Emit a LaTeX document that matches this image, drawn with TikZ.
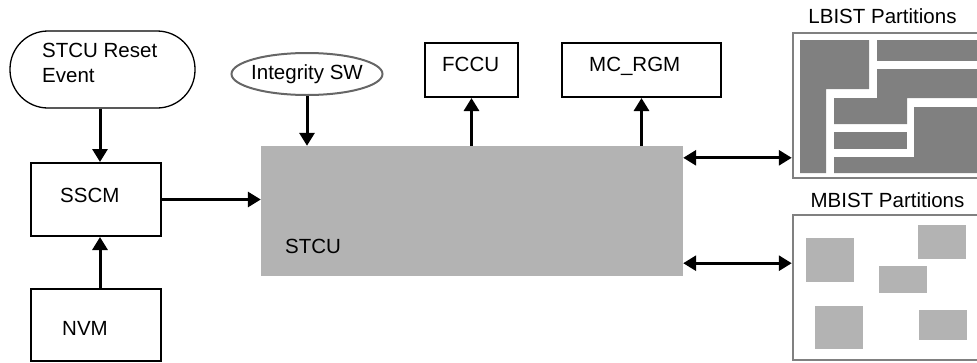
\documentclass[tikz,border=0pt]{standalone}
\usepackage{fontspec}
\setmainfont{Liberation Sans}
\usetikzlibrary{arrows.meta, shapes.geometric}
\definecolor{stcugray}{HTML}{B3B3B3}
\definecolor{lbistgray}{HTML}{808080}

\begin{document}
\begin{tikzpicture}[x=1pt, y=-1pt,
  font=\fontsize{20.5}{24.6}\selectfont,
  blk/.style={draw, line width=2pt, inner sep=0pt},
  txt/.style={inner sep=0pt, anchor=base west},
  arr/.style={line width=3pt, -{Triangle[length=13pt,width=15pt]}},
  dblarr/.style={line width=3pt, {Triangle[length=13pt,width=15pt]}-{Triangle[length=13pt,width=15pt]}},
  partbox/.style={draw=lbistgray, line width=2.5pt, inner sep=0pt}]
  \useasboundingbox (0,0) rectangle (977,362);
  \clip (0,0) rectangle (977,362);

  % left column
  \node[draw, line width=1.3pt, rounded corners=38pt, minimum width=185pt, minimum height=77pt] (reset) at (102.5,69.5) {};
  \node[inner sep=0pt, anchor=north west, align=left] (resettxt) at (42,43) {STCU Reset\\Event};
  \node[blk, minimum width=130pt, minimum height=73pt] (sscm) at (96,199.5) {};
  \node[txt] (sscmtxt) at (60,202) {SSCM};
  \node[blk, minimum width=130pt, minimum height=72pt] (nvm) at (96,325) {};
  \node[txt] (nvmtxt) at (62,335) {NVM};
  \coordinate (col) at (100,0);

  % STCU and its neighbours
  \node[fill=stcugray, minimum width=422pt, minimum height=130pt, inner sep=0pt] (stcu) at (472,211) {};
  \node[txt] (stcutxt) at (285,253) {STCU};
  \node[ellipse, draw=black!60, line width=2pt, minimum width=151pt, minimum height=42pt] (integ) at (307,74) {};
  \node[inner sep=0pt] (integtxt) at (integ.center) {Integrity SW};
  \node[blk, minimum width=93pt, minimum height=54pt] (fccu) at (471.5,70) {};
  \node[txt] (fccutxt) at (442,71.5) {FCCU};
  \node[blk, minimum width=159pt, minimum height=54pt] (mcrgm) at (641.5,70) {};
  \node[txt] (mcrgmtxt) at (589,71.5) {MC\_RGM};

  % partitions (cut by the right edge)
  \node[partbox, minimum width=207pt, minimum height=145pt] (lbist) at (896.5,105.5) {};
  \node[inner sep=0pt, anchor=base] (lbisttxt) at (882.5,23) {LBIST Partitions};
  \fill[lbistgray] (800,40) -- (869,40) -- (869,89) -- (826,89) -- (826,173) -- (800,173) -- cycle;
  \fill[lbistgray] (877,40) rectangle (1000,61);
  \fill[lbistgray] (877,69) -- (1000,69) -- (1000,98) -- (907,98) -- (907,124) -- (834,124) -- (834,98) -- (877,98) -- cycle;
  \fill[lbistgray] (834,132) rectangle (907,149);
  \fill[lbistgray] (914,107) -- (1000,107) -- (1000,173) -- (834,173) -- (834,157) -- (914,157) -- cycle;

  \node[partbox, minimum width=207pt, minimum height=145pt] (mbist) at (896.5,287.5) {};
  \node[inner sep=0pt, anchor=base] (mbisttxt) at (887.5,207) {MBIST Partitions};
  \fill[stcugray] (806,238) rectangle (854,282);
  \fill[stcugray] (918,225) rectangle (966,259);
  \fill[stcugray] (879,266) rectangle (927,293);
  \fill[stcugray] (815,306) rectangle (863,349);
  \fill[stcugray] (919,310) rectangle (967,340);

  % connectors
  \draw[arr] (reset.south -| col) -- (sscm.north -| col);
  \draw[arr] (nvm.north -| col) -- (sscm.south -| col);
  \draw[arr] (sscm.east) -- (sscm.east -| stcu.west);
  \draw[arr] (integ.south) -- (integ.south |- stcu.north);
  \draw[arr] (stcu.north -| fccu.south) -- (fccu.south);
  \draw[arr] (stcu.north -| mcrgm.south) -- (mcrgm.south);
  \draw[dblarr] ([yshift=-12pt]stcu.north east) -- ([yshift=-12pt]stcu.north east -| lbist.west);
  \draw[dblarr] ([yshift=13pt]stcu.south east) -- ([yshift=13pt]stcu.south east -| mbist.west);
\end{tikzpicture}
\end{document}
